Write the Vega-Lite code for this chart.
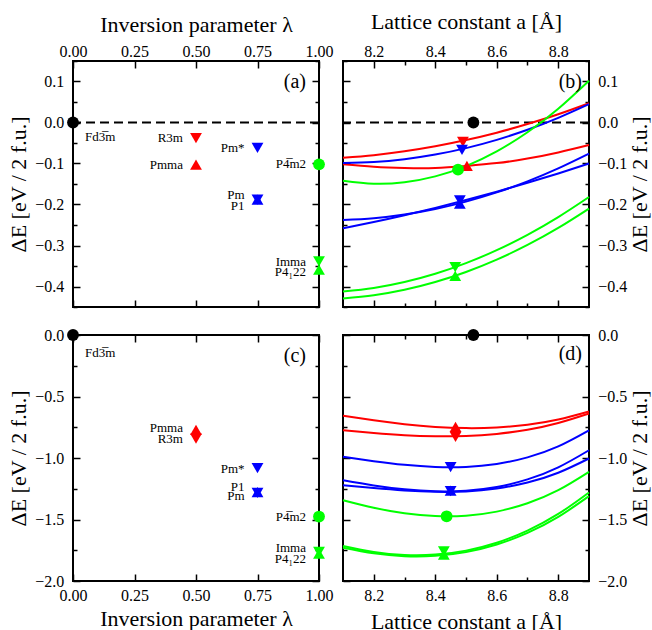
{
  "$schema": "https://vega.github.io/schema/vega-lite/v6.json",
  "background": "white",
  "padding": {"left": 6, "top": 9, "right": 0, "bottom": 0},
  "bounds": "flush",
  "columns": 2,
  "spacing": {"row": 28, "column": 24},
  "resolve": {"scale": {"x": "independent", "y": "independent"}},
  "config": {
    "view": {"stroke": "black", "strokeWidth": 2},
    "font": "Liberation Serif",
    "axis": {
      "domain": false, "grid": false,
      "labelFont": "Liberation Serif", "labelFontSize": 16, "labelColor": "black",
      "titleFont": "Liberation Serif", "titleFontSize": 22, "titleFontWeight": "normal", "titleColor": "black",
      "tickColor": "black", "tickWidth": 1.5,
      "labelFlush": false, "labelOverlap": false, "labelBound": false
    },
    "text": {"font": "Liberation Serif", "fontSize": 13, "color": "black"},
    "legend": {"disable": true}
  },
  "datasets": {
    "zero": [{"E": 0}],
    "pa": [
      {"phase": "Fd3̅m", "lam": 0, "E": 0, "sym": "circle", "grp": "0"},
      {"phase": "R3m", "lam": 0.5, "E": -0.038, "sym": "down", "grp": "0.5"},
      {"phase": "Pmma", "lam": 0.5, "E": -0.103, "sym": "up", "grp": "0.5"},
      {"phase": "Pm*", "lam": 0.75, "E": -0.062, "sym": "down", "grp": "0.75"},
      {"phase": "Pm", "lam": 0.75, "E": -0.188, "sym": "up", "grp": "0.75"},
      {"phase": "P1", "lam": 0.75, "E": -0.188, "sym": "down", "grp": "0.75"},
      {"phase": "P4̅m2", "lam": 1, "E": -0.102, "sym": "circle", "grp": "1"},
      {"phase": "Imma", "lam": 1, "E": -0.339, "sym": "down", "grp": "1"},
      {"phase": "P4₁22", "lam": 1, "E": -0.359, "sym": "up", "grp": "1"}
    ],
    "la": [
      {"lam": 0.5, "E": -0.037, "label": "R3m"},
      {"lam": 0.5, "E": -0.104, "label": "Pmma"},
      {"lam": 0.75, "E": -0.062, "label": "Pm*"},
      {"lam": 0.75, "E": -0.177, "label": "Pm"},
      {"lam": 0.75, "E": -0.204, "label": "P1"},
      {"lam": 1, "E": -0.102, "label": "P4̅m2"},
      {"lam": 1, "E": -0.34, "label": "Imma"},
      {"lam": 1, "E": -0.364, "label": "P4₁22"}
    ],
    "pc": [
      {"phase": "Fd3̅m", "lam": 0, "E": 0, "sym": "circle", "grp": "0"},
      {"phase": "Pmma", "lam": 0.5, "E": -0.772, "sym": "up", "grp": "0.5"},
      {"phase": "R3m", "lam": 0.5, "E": -0.843, "sym": "down", "grp": "0.5"},
      {"phase": "Pm*", "lam": 0.75, "E": -1.083, "sym": "down", "grp": "0.75"},
      {"phase": "P1", "lam": 0.75, "E": -1.277, "sym": "up", "grp": "0.75"},
      {"phase": "Pm", "lam": 0.75, "E": -1.283, "sym": "down", "grp": "0.75"},
      {"phase": "P4̅m2", "lam": 1, "E": -1.476, "sym": "circle", "grp": "1"},
      {"phase": "Imma", "lam": 1, "E": -1.764, "sym": "down", "grp": "1"},
      {"phase": "P4₁22", "lam": 1, "E": -1.778, "sym": "up", "grp": "1"}
    ],
    "lc": [
      {"lam": 0.5, "E": -0.76, "label": "Pmma"},
      {"lam": 0.5, "E": -0.842, "label": "R3m"},
      {"lam": 0.75, "E": -1.086, "label": "Pm*"},
      {"lam": 0.75, "E": -1.235, "label": "P1"},
      {"lam": 0.75, "E": -1.308, "label": "Pm"},
      {"lam": 1, "E": -1.479, "label": "P4̅m2"},
      {"lam": 1, "E": -1.731, "label": "Imma"},
      {"lam": 1, "E": -1.818, "label": "P4₁22"}
    ],
    "pb": [
      {"phase": "Fd3̅m", "a": 8.524, "E": 0, "sym": "circle", "grp": "0"},
      {"phase": "R3m", "a": 8.49, "E": -0.047, "sym": "down", "grp": "0.5"},
      {"phase": "Pmma", "a": 8.503, "E": -0.106, "sym": "up", "grp": "0.5"},
      {"phase": "Pm*", "a": 8.487, "E": -0.067, "sym": "down", "grp": "0.75"},
      {"phase": "Pm", "a": 8.48, "E": -0.19, "sym": "down", "grp": "0.75"},
      {"phase": "P1", "a": 8.48, "E": -0.198, "sym": "up", "grp": "0.75"},
      {"phase": "P4̅m2", "a": 8.474, "E": -0.115, "sym": "circle", "grp": "1"},
      {"phase": "Imma", "a": 8.465, "E": -0.353, "sym": "down", "grp": "1"},
      {"phase": "P4₁22", "a": 8.465, "E": -0.374, "sym": "up", "grp": "1"}
    ],
    "pd": [
      {"phase": "Fd3̅m", "a": 8.524, "E": 0, "sym": "circle", "grp": "0"},
      {"phase": "Pmma", "a": 8.466, "E": -0.747, "sym": "up", "grp": "0.5"},
      {"phase": "R3m", "a": 8.466, "E": -0.828, "sym": "down", "grp": "0.5"},
      {"phase": "Pm*", "a": 8.45, "E": -1.075, "sym": "down", "grp": "0.75"},
      {"phase": "P1", "a": 8.45, "E": -1.265, "sym": "up", "grp": "0.75"},
      {"phase": "Pm", "a": 8.45, "E": -1.27, "sym": "down", "grp": "0.75"},
      {"phase": "P4̅m2", "a": 8.437, "E": -1.474, "sym": "circle", "grp": "1"},
      {"phase": "Imma", "a": 8.428, "E": -1.76, "sym": "down", "grp": "1"},
      {"phase": "P4₁22", "a": 8.428, "E": -1.786, "sym": "up", "grp": "1"}
    ],
    "cb": [
      {"id": "R3m", "grp": "0.5", "a": 8.1, "E": -0.086}, {"id": "R3m", "grp": "0.5", "a": 8.2, "E": -0.0796}, {"id": "R3m", "grp": "0.5", "a": 8.3, "E": -0.0702}, {"id": "R3m", "grp": "0.5", "a": 8.4, "E": -0.058}, {"id": "R3m", "grp": "0.5", "a": 8.5, "E": -0.0428}, {"id": "R3m", "grp": "0.5", "a": 8.6, "E": -0.0248}, {"id": "R3m", "grp": "0.5", "a": 8.7, "E": -0.0038}, {"id": "R3m", "grp": "0.5", "a": 8.8, "E": 0.0201}, {"id": "R3m", "grp": "0.5", "a": 8.9, "E": 0.047},
      {"id": "Pmma", "grp": "0.5", "a": 8.1, "E": -0.102}, {"id": "Pmma", "grp": "0.5", "a": 8.2, "E": -0.108}, {"id": "Pmma", "grp": "0.5", "a": 8.3, "E": -0.111}, {"id": "Pmma", "grp": "0.5", "a": 8.4, "E": -0.111}, {"id": "Pmma", "grp": "0.5", "a": 8.5, "E": -0.106}, {"id": "Pmma", "grp": "0.5", "a": 8.6, "E": -0.099}, {"id": "Pmma", "grp": "0.5", "a": 8.7, "E": -0.088}, {"id": "Pmma", "grp": "0.5", "a": 8.8, "E": -0.073}, {"id": "Pmma", "grp": "0.5", "a": 8.9, "E": -0.055},
      {"id": "Pm*", "grp": "0.75", "a": 8.1, "E": -0.099}, {"id": "Pm*", "grp": "0.75", "a": 8.2, "E": -0.0965}, {"id": "Pm*", "grp": "0.75", "a": 8.3, "E": -0.0896}, {"id": "Pm*", "grp": "0.75", "a": 8.4, "E": -0.0783}, {"id": "Pm*", "grp": "0.75", "a": 8.5, "E": -0.0625}, {"id": "Pm*", "grp": "0.75", "a": 8.6, "E": -0.0423}, {"id": "Pm*", "grp": "0.75", "a": 8.7, "E": -0.0177}, {"id": "Pm*", "grp": "0.75", "a": 8.8, "E": 0.0114}, {"id": "Pm*", "grp": "0.75", "a": 8.9, "E": 0.0449},
      {"id": "Pm", "grp": "0.75", "a": 8.1, "E": -0.238}, {"id": "Pm", "grp": "0.75", "a": 8.2, "E": -0.2335}, {"id": "Pm", "grp": "0.75", "a": 8.3, "E": -0.2245}, {"id": "Pm", "grp": "0.75", "a": 8.4, "E": -0.211}, {"id": "Pm", "grp": "0.75", "a": 8.5, "E": -0.193}, {"id": "Pm", "grp": "0.75", "a": 8.6, "E": -0.1705}, {"id": "Pm", "grp": "0.75", "a": 8.7, "E": -0.1435}, {"id": "Pm", "grp": "0.75", "a": 8.8, "E": -0.112}, {"id": "Pm", "grp": "0.75", "a": 8.9, "E": -0.076},
      {"id": "P1", "grp": "0.75", "a": 8.1, "E": -0.258}, {"id": "P1", "grp": "0.75", "a": 8.2, "E": -0.2427}, {"id": "P1", "grp": "0.75", "a": 8.3, "E": -0.2261}, {"id": "P1", "grp": "0.75", "a": 8.4, "E": -0.2082}, {"id": "P1", "grp": "0.75", "a": 8.5, "E": -0.1891}, {"id": "P1", "grp": "0.75", "a": 8.6, "E": -0.1688}, {"id": "P1", "grp": "0.75", "a": 8.7, "E": -0.1471}, {"id": "P1", "grp": "0.75", "a": 8.8, "E": -0.1242}, {"id": "P1", "grp": "0.75", "a": 8.9, "E": -0.1},
      {"id": "P4m2", "grp": "1", "a": 8.1, "E": -0.142}, {"id": "P4m2", "grp": "1", "a": 8.2, "E": -0.1493}, {"id": "P4m2", "grp": "1", "a": 8.3, "E": -0.1457}, {"id": "P4m2", "grp": "1", "a": 8.4, "E": -0.1314}, {"id": "P4m2", "grp": "1", "a": 8.5, "E": -0.1063}, {"id": "P4m2", "grp": "1", "a": 8.6, "E": -0.0704}, {"id": "P4m2", "grp": "1", "a": 8.7, "E": -0.0237}, {"id": "P4m2", "grp": "1", "a": 8.8, "E": 0.0337}, {"id": "P4m2", "grp": "1", "a": 8.9, "E": 0.102},
      {"id": "Imma", "grp": "1", "a": 8.1, "E": -0.412}, {"id": "Imma", "grp": "1", "a": 8.2, "E": -0.4034}, {"id": "Imma", "grp": "1", "a": 8.3, "E": -0.389}, {"id": "Imma", "grp": "1", "a": 8.4, "E": -0.3688}, {"id": "Imma", "grp": "1", "a": 8.5, "E": -0.343}, {"id": "Imma", "grp": "1", "a": 8.6, "E": -0.3113}, {"id": "Imma", "grp": "1", "a": 8.7, "E": -0.2739}, {"id": "Imma", "grp": "1", "a": 8.8, "E": -0.2307}, {"id": "Imma", "grp": "1", "a": 8.9, "E": -0.1817},
      {"id": "P4122", "grp": "1", "a": 8.1, "E": -0.429}, {"id": "P4122", "grp": "1", "a": 8.2, "E": -0.4213}, {"id": "P4122", "grp": "1", "a": 8.3, "E": -0.408}, {"id": "P4122", "grp": "1", "a": 8.4, "E": -0.3891}, {"id": "P4122", "grp": "1", "a": 8.5, "E": -0.3645}, {"id": "P4122", "grp": "1", "a": 8.6, "E": -0.3344}, {"id": "P4122", "grp": "1", "a": 8.7, "E": -0.2986}, {"id": "P4122", "grp": "1", "a": 8.8, "E": -0.2572}, {"id": "P4122", "grp": "1", "a": 8.9, "E": -0.21}
    ],
    "cd": [
      {"id": "Pmma", "grp": "0.5", "a": 8.1, "E": -0.657}, {"id": "Pmma", "grp": "0.5", "a": 8.2, "E": -0.694}, {"id": "Pmma", "grp": "0.5", "a": 8.3, "E": -0.725}, {"id": "Pmma", "grp": "0.5", "a": 8.4, "E": -0.747}, {"id": "Pmma", "grp": "0.5", "a": 8.5, "E": -0.757}, {"id": "Pmma", "grp": "0.5", "a": 8.6, "E": -0.752}, {"id": "Pmma", "grp": "0.5", "a": 8.7, "E": -0.73}, {"id": "Pmma", "grp": "0.5", "a": 8.8, "E": -0.687}, {"id": "Pmma", "grp": "0.5", "a": 8.9, "E": -0.622},
      {"id": "R3m", "grp": "0.5", "a": 8.1, "E": -0.774}, {"id": "R3m", "grp": "0.5", "a": 8.2, "E": -0.797}, {"id": "R3m", "grp": "0.5", "a": 8.3, "E": -0.815}, {"id": "R3m", "grp": "0.5", "a": 8.4, "E": -0.8235}, {"id": "R3m", "grp": "0.5", "a": 8.5, "E": -0.821}, {"id": "R3m", "grp": "0.5", "a": 8.6, "E": -0.804}, {"id": "R3m", "grp": "0.5", "a": 8.7, "E": -0.77}, {"id": "R3m", "grp": "0.5", "a": 8.8, "E": -0.715}, {"id": "R3m", "grp": "0.5", "a": 8.9, "E": -0.638},
      {"id": "Pm*", "grp": "0.75", "a": 8.1, "E": -0.9905}, {"id": "Pm*", "grp": "0.75", "a": 8.2, "E": -1.0257}, {"id": "Pm*", "grp": "0.75", "a": 8.3, "E": -1.0551}, {"id": "Pm*", "grp": "0.75", "a": 8.4, "E": -1.0725}, {"id": "Pm*", "grp": "0.75", "a": 8.5, "E": -1.0723}, {"id": "Pm*", "grp": "0.75", "a": 8.6, "E": -1.0484}, {"id": "Pm*", "grp": "0.75", "a": 8.7, "E": -0.9948}, {"id": "Pm*", "grp": "0.75", "a": 8.8, "E": -0.9058}, {"id": "Pm*", "grp": "0.75", "a": 8.9, "E": -0.7753},
      {"id": "P1", "grp": "0.75", "a": 8.1, "E": -1.181}, {"id": "P1", "grp": "0.75", "a": 8.2, "E": -1.223}, {"id": "P1", "grp": "0.75", "a": 8.3, "E": -1.255}, {"id": "P1", "grp": "0.75", "a": 8.4, "E": -1.271}, {"id": "P1", "grp": "0.75", "a": 8.5, "E": -1.266}, {"id": "P1", "grp": "0.75", "a": 8.6, "E": -1.2355}, {"id": "P1", "grp": "0.75", "a": 8.7, "E": -1.174}, {"id": "P1", "grp": "0.75", "a": 8.8, "E": -1.076}, {"id": "P1", "grp": "0.75", "a": 8.9, "E": -0.937},
      {"id": "Pm", "grp": "0.75", "a": 8.1, "E": -1.221}, {"id": "Pm", "grp": "0.75", "a": 8.2, "E": -1.2445}, {"id": "Pm", "grp": "0.75", "a": 8.3, "E": -1.264}, {"id": "Pm", "grp": "0.75", "a": 8.4, "E": -1.275}, {"id": "Pm", "grp": "0.75", "a": 8.5, "E": -1.272}, {"id": "Pm", "grp": "0.75", "a": 8.6, "E": -1.248}, {"id": "Pm", "grp": "0.75", "a": 8.7, "E": -1.1995}, {"id": "Pm", "grp": "0.75", "a": 8.8, "E": -1.12}, {"id": "Pm", "grp": "0.75", "a": 8.9, "E": -1.004},
      {"id": "P4m2", "grp": "1", "a": 8.1, "E": -1.343}, {"id": "P4m2", "grp": "1", "a": 8.2, "E": -1.4046}, {"id": "P4m2", "grp": "1", "a": 8.3, "E": -1.449}, {"id": "P4m2", "grp": "1", "a": 8.4, "E": -1.4718}, {"id": "P4m2", "grp": "1", "a": 8.5, "E": -1.469}, {"id": "P4m2", "grp": "1", "a": 8.6, "E": -1.436}, {"id": "P4m2", "grp": "1", "a": 8.7, "E": -1.368}, {"id": "P4m2", "grp": "1", "a": 8.8, "E": -1.262}, {"id": "P4m2", "grp": "1", "a": 8.9, "E": -1.113},
      {"id": "Imma", "grp": "1", "a": 8.1, "E": -1.716}, {"id": "Imma", "grp": "1", "a": 8.2, "E": -1.764}, {"id": "Imma", "grp": "1", "a": 8.3, "E": -1.788}, {"id": "Imma", "grp": "1", "a": 8.4, "E": -1.785}, {"id": "Imma", "grp": "1", "a": 8.5, "E": -1.753}, {"id": "Imma", "grp": "1", "a": 8.6, "E": -1.689}, {"id": "Imma", "grp": "1", "a": 8.7, "E": -1.59}, {"id": "Imma", "grp": "1", "a": 8.8, "E": -1.455}, {"id": "Imma", "grp": "1", "a": 8.9, "E": -1.28},
      {"id": "P4122", "grp": "1", "a": 8.1, "E": -1.73}, {"id": "P4122", "grp": "1", "a": 8.2, "E": -1.775}, {"id": "P4122", "grp": "1", "a": 8.3, "E": -1.798}, {"id": "P4122", "grp": "1", "a": 8.4, "E": -1.795}, {"id": "P4122", "grp": "1", "a": 8.5, "E": -1.764}, {"id": "P4122", "grp": "1", "a": 8.6, "E": -1.703}, {"id": "P4122", "grp": "1", "a": 8.7, "E": -1.609}, {"id": "P4122", "grp": "1", "a": 8.8, "E": -1.479}, {"id": "P4122", "grp": "1", "a": 8.9, "E": -1.31}
    ]
  },
  "concat": [
    {
      "width": 246, "height": 246,
      "resolve": {"axis": {"x": "independent", "y": "independent"}},
      "layer": [
        {
          "data": {"name": "zero"},
          "mark": {"type": "rule", "strokeDash": [9, 5], "strokeWidth": 2, "color": "black"},
          "encoding": {"y": {"field": "E", "type": "quantitative", "scale": {"domain": [-0.45, 0.15], "nice": false, "zero": false}, "axis": null}}
        },
        {
          "data": {"name": "la"},
          "mark": {"type": "text", "align": "right", "baseline": "middle", "dx": -13, "fontSize": 13},
          "encoding": {
            "x": {"field": "lam", "type": "quantitative", "scale": {"domain": [0, 1], "nice": false, "zero": false},
                  "axis": {"orient": "bottom", "values": [0, 0.25, 0.5, 0.75, 1], "labels": false, "title": null, "tickSize": -7}},
            "y": {"field": "E", "type": "quantitative", "scale": {"domain": [-0.45, 0.15], "nice": false, "zero": false},
                  "axis": {"orient": "right", "values": [-0.45, -0.4, -0.35, -0.3, -0.25, -0.2, -0.15, -0.1, -0.05, 0, 0.05, 0.1, 0.15], "labels": false, "title": null,
                           "tickSize": {"condition": {"test": "abs(datum.value*10 - round(datum.value*10)) < 0.001", "value": -7}, "value": -4}}},
            "text": {"field": "label"}
          }
        },
        {
          "data": {"values": [{"lam": 0, "E": -0.036, "label": "Fd3̅m"}]},
          "mark": {"type": "text", "align": "left", "baseline": "middle", "dx": 12, "fontSize": 13},
          "encoding": {
            "x": {"field": "lam", "type": "quantitative", "scale": {"domain": [0, 1], "nice": false, "zero": false}, "axis": null},
            "y": {"field": "E", "type": "quantitative", "scale": {"domain": [-0.45, 0.15], "nice": false, "zero": false}, "axis": null},
            "text": {"field": "label"}
          }
        },
        {
          "data": {"values": [{"lam": 1, "E": 0.1, "label": "(a)"}]},
          "mark": {"type": "text", "align": "right", "baseline": "middle", "dx": -13, "fontSize": 20},
          "encoding": {
            "x": {"field": "lam", "type": "quantitative", "scale": {"domain": [0, 1], "nice": false, "zero": false}, "axis": null},
            "y": {"field": "E", "type": "quantitative", "scale": {"domain": [-0.45, 0.15], "nice": false, "zero": false}, "axis": null},
            "text": {"field": "label"}
          }
        },
        {
          "data": {"name": "pa"},
          "mark": {"type": "point", "filled": true, "size": 140, "opacity": 1},
          "encoding": {
            "x": {"field": "lam", "type": "quantitative", "scale": {"domain": [0, 1], "nice": false, "zero": false},
                  "axis": {"orient": "top", "title": "Inversion parameter λ", "values": [0, 0.25, 0.5, 0.75, 1], "format": ".2f", "tickSize": -7, "labelPadding": 8.5, "titlePadding": 7}},
            "y": {"field": "E", "type": "quantitative", "scale": {"domain": [-0.45, 0.15], "nice": false, "zero": false},
                  "axis": {"orient": "left", "title": "ΔE [eV / 2 f.u.]", "values": [-0.45, -0.4, -0.35, -0.3, -0.25, -0.2, -0.15, -0.1, -0.05, 0, 0.05, 0.1, 0.15],
                           "labelExpr": "abs(datum.value*10 - round(datum.value*10)) < 0.001 ? format(datum.value, '.1f') : ''",
                           "tickSize": {"condition": {"test": "abs(datum.value*10 - round(datum.value*10)) < 0.001", "value": -7}, "value": -4},
                           "labelPadding": 16.3, "titlePadding": 4}},
            "shape": {"field": "sym", "type": "nominal", "scale": {"domain": ["circle", "up", "down"], "range": ["circle", "triangle-up", "triangle-down"]}, "legend": null},
            "color": {"field": "grp", "type": "nominal", "scale": {"domain": ["0", "0.5", "0.75", "1"], "range": ["#000000", "#ff0000", "#0000ff", "#00ff00"]}, "legend": null}
          }
        }
      ]
    },
    {
      "width": 246, "height": 246,
      "resolve": {"axis": {"x": "independent", "y": "independent"}},
      "layer": [
        {
          "data": {"name": "zero"},
          "mark": {"type": "rule", "strokeDash": [9, 5], "strokeWidth": 2, "color": "black"},
          "encoding": {"y": {"field": "E", "type": "quantitative", "scale": {"domain": [-0.45, 0.15], "nice": false, "zero": false}, "axis": null}}
        },
        {
          "data": {"name": "cb"},
          "mark": {"type": "line", "interpolate": "natural", "strokeWidth": 2},
          "encoding": {
            "x": {"field": "a", "type": "quantitative", "scale": {"domain": [8.1, 8.9], "nice": false, "zero": false},
                  "axis": {"orient": "bottom", "values": [8.2, 8.3, 8.4, 8.5, 8.6, 8.7, 8.8], "labels": false, "title": null,
                           "tickSize": {"condition": {"test": "abs(datum.value*5 - round(datum.value*5)) < 0.001", "value": -7}, "value": -4}}},
            "y": {"field": "E", "type": "quantitative", "scale": {"domain": [-0.45, 0.15], "nice": false, "zero": false},
                  "axis": {"orient": "left", "values": [-0.45, -0.4, -0.35, -0.3, -0.25, -0.2, -0.15, -0.1, -0.05, 0, 0.05, 0.1, 0.15], "labels": false, "title": null,
                           "tickSize": {"condition": {"test": "abs(datum.value*10 - round(datum.value*10)) < 0.001", "value": -7}, "value": -4}}},
            "color": {"field": "grp", "type": "nominal", "scale": {"domain": ["0", "0.5", "0.75", "1"], "range": ["#000000", "#ff0000", "#0000ff", "#00ff00"]}, "legend": null},
            "detail": {"field": "id"}
          }
        },
        {
          "data": {"values": [{"a": 8.9, "E": 0.1, "label": "(b)"}]},
          "mark": {"type": "text", "align": "right", "baseline": "middle", "dx": -7, "fontSize": 20},
          "encoding": {
            "x": {"field": "a", "type": "quantitative", "scale": {"domain": [8.1, 8.9], "nice": false, "zero": false}, "axis": null},
            "y": {"field": "E", "type": "quantitative", "scale": {"domain": [-0.45, 0.15], "nice": false, "zero": false}, "axis": null},
            "text": {"field": "label"}
          }
        },
        {
          "data": {"name": "pb"},
          "mark": {"type": "point", "filled": true, "size": 140, "opacity": 1},
          "encoding": {
            "x": {"field": "a", "type": "quantitative", "scale": {"domain": [8.1, 8.9], "nice": false, "zero": false},
                  "axis": {"orient": "top", "title": "Lattice constant a [Å]", "values": [8.2, 8.3, 8.4, 8.5, 8.6, 8.7, 8.8],
                           "labelExpr": "abs(datum.value*5 - round(datum.value*5)) < 0.001 ? format(datum.value, '.1f') : ''",
                           "tickSize": {"condition": {"test": "abs(datum.value*5 - round(datum.value*5)) < 0.001", "value": -7}, "value": -4},
                           "labelPadding": 8.5, "titlePadding": 7}},
            "y": {"field": "E", "type": "quantitative", "scale": {"domain": [-0.45, 0.15], "nice": false, "zero": false},
                  "axis": {"orient": "right", "title": "ΔE [eV / 2 f.u.]", "titleAngle": 270, "titleBaseline": "top", "values": [-0.45, -0.4, -0.35, -0.3, -0.25, -0.2, -0.15, -0.1, -0.05, 0, 0.05, 0.1, 0.15],
                           "labelExpr": "abs(datum.value*10 - round(datum.value*10)) < 0.001 ? format(datum.value, '.1f') : ''",
                           "tickSize": {"condition": {"test": "abs(datum.value*10 - round(datum.value*10)) < 0.001", "value": -7}, "value": -4},
                           "labelPadding": 15.7, "titlePadding": 3}},
            "shape": {"field": "sym", "type": "nominal", "scale": {"domain": ["circle", "up", "down"], "range": ["circle", "triangle-up", "triangle-down"]}, "legend": null},
            "color": {"field": "grp", "type": "nominal", "scale": {"domain": ["0", "0.5", "0.75", "1"], "range": ["#000000", "#ff0000", "#0000ff", "#00ff00"]}, "legend": null}
          }
        }
      ]
    },
    {
      "width": 246, "height": 246,
      "resolve": {"axis": {"x": "independent", "y": "independent"}},
      "layer": [
        {
          "data": {"name": "lc"},
          "mark": {"type": "text", "align": "right", "baseline": "middle", "dx": -13, "fontSize": 13},
          "encoding": {
            "x": {"field": "lam", "type": "quantitative", "scale": {"domain": [0, 1], "nice": false, "zero": false},
                  "axis": {"orient": "top", "values": [0, 0.25, 0.5, 0.75, 1], "labels": false, "title": null, "tickSize": -7}},
            "y": {"field": "E", "type": "quantitative", "scale": {"domain": [-2, 0], "nice": false, "zero": false},
                  "axis": {"orient": "right", "values": [-2, -1.75, -1.5, -1.25, -1, -0.75, -0.5, -0.25, 0], "labels": false, "title": null,
                           "tickSize": {"condition": {"test": "abs(datum.value*2 - round(datum.value*2)) < 0.001", "value": -7}, "value": -4}}},
            "text": {"field": "label"}
          }
        },
        {
          "data": {"values": [{"lam": 0, "E": -0.15, "label": "Fd3̅m"}]},
          "mark": {"type": "text", "align": "left", "baseline": "middle", "dx": 12, "fontSize": 13},
          "encoding": {
            "x": {"field": "lam", "type": "quantitative", "scale": {"domain": [0, 1], "nice": false, "zero": false}, "axis": null},
            "y": {"field": "E", "type": "quantitative", "scale": {"domain": [-2, 0], "nice": false, "zero": false}, "axis": null},
            "text": {"field": "label"}
          }
        },
        {
          "data": {"values": [{"lam": 1, "E": -0.168, "label": "(c)"}]},
          "mark": {"type": "text", "align": "right", "baseline": "middle", "dx": -13, "fontSize": 20},
          "encoding": {
            "x": {"field": "lam", "type": "quantitative", "scale": {"domain": [0, 1], "nice": false, "zero": false}, "axis": null},
            "y": {"field": "E", "type": "quantitative", "scale": {"domain": [-2, 0], "nice": false, "zero": false}, "axis": null},
            "text": {"field": "label"}
          }
        },
        {
          "data": {"name": "pc"},
          "mark": {"type": "point", "filled": true, "size": 140, "opacity": 1},
          "encoding": {
            "x": {"field": "lam", "type": "quantitative", "scale": {"domain": [0, 1], "nice": false, "zero": false},
                  "axis": {"orient": "bottom", "title": "Inversion parameter λ", "values": [0, 0.25, 0.5, 0.75, 1], "format": ".2f", "tickSize": -7, "labelPadding": 13.3, "titlePadding": 5}},
            "y": {"field": "E", "type": "quantitative", "scale": {"domain": [-2, 0], "nice": false, "zero": false},
                  "axis": {"orient": "left", "title": "ΔE [eV / 2 f.u.]", "values": [-2, -1.75, -1.5, -1.25, -1, -0.75, -0.5, -0.25, 0],
                           "labelExpr": "abs(datum.value*2 - round(datum.value*2)) < 0.001 ? format(datum.value, '.1f') : ''",
                           "tickSize": {"condition": {"test": "abs(datum.value*2 - round(datum.value*2)) < 0.001", "value": -7}, "value": -4},
                           "labelPadding": 16.3, "titlePadding": 4}},
            "shape": {"field": "sym", "type": "nominal", "scale": {"domain": ["circle", "up", "down"], "range": ["circle", "triangle-up", "triangle-down"]}, "legend": null},
            "color": {"field": "grp", "type": "nominal", "scale": {"domain": ["0", "0.5", "0.75", "1"], "range": ["#000000", "#ff0000", "#0000ff", "#00ff00"]}, "legend": null}
          }
        }
      ]
    },
    {
      "width": 246, "height": 246,
      "resolve": {"axis": {"x": "independent", "y": "independent"}},
      "layer": [
        {
          "data": {"name": "cd"},
          "mark": {"type": "line", "interpolate": "natural", "strokeWidth": 2},
          "encoding": {
            "x": {"field": "a", "type": "quantitative", "scale": {"domain": [8.1, 8.9], "nice": false, "zero": false},
                  "axis": {"orient": "top", "values": [8.2, 8.3, 8.4, 8.5, 8.6, 8.7, 8.8], "labels": false, "title": null,
                           "tickSize": {"condition": {"test": "abs(datum.value*5 - round(datum.value*5)) < 0.001", "value": -7}, "value": -4}}},
            "y": {"field": "E", "type": "quantitative", "scale": {"domain": [-2, 0], "nice": false, "zero": false},
                  "axis": {"orient": "left", "values": [-2, -1.75, -1.5, -1.25, -1, -0.75, -0.5, -0.25, 0], "labels": false, "title": null,
                           "tickSize": {"condition": {"test": "abs(datum.value*2 - round(datum.value*2)) < 0.001", "value": -7}, "value": -4}}},
            "color": {"field": "grp", "type": "nominal", "scale": {"domain": ["0", "0.5", "0.75", "1"], "range": ["#000000", "#ff0000", "#0000ff", "#00ff00"]}, "legend": null},
            "detail": {"field": "id"}
          }
        },
        {
          "data": {"values": [{"a": 8.9, "E": -0.156, "label": "(d)"}]},
          "mark": {"type": "text", "align": "right", "baseline": "middle", "dx": -7, "fontSize": 20},
          "encoding": {
            "x": {"field": "a", "type": "quantitative", "scale": {"domain": [8.1, 8.9], "nice": false, "zero": false}, "axis": null},
            "y": {"field": "E", "type": "quantitative", "scale": {"domain": [-2, 0], "nice": false, "zero": false}, "axis": null},
            "text": {"field": "label"}
          }
        },
        {
          "data": {"name": "pd"},
          "mark": {"type": "point", "filled": true, "size": 140, "opacity": 1},
          "encoding": {
            "x": {"field": "a", "type": "quantitative", "scale": {"domain": [8.1, 8.9], "nice": false, "zero": false},
                  "axis": {"orient": "bottom", "title": "Lattice constant a [Å]", "values": [8.2, 8.3, 8.4, 8.5, 8.6, 8.7, 8.8],
                           "labelExpr": "abs(datum.value*5 - round(datum.value*5)) < 0.001 ? format(datum.value, '.1f') : ''",
                           "tickSize": {"condition": {"test": "abs(datum.value*5 - round(datum.value*5)) < 0.001", "value": -7}, "value": -4},
                           "labelPadding": 13.3, "titlePadding": 5}},
            "y": {"field": "E", "type": "quantitative", "scale": {"domain": [-2, 0], "nice": false, "zero": false},
                  "axis": {"orient": "right", "title": "ΔE [eV / 2 f.u.]", "titleAngle": 270, "titleBaseline": "top", "values": [-2, -1.75, -1.5, -1.25, -1, -0.75, -0.5, -0.25, 0],
                           "labelExpr": "abs(datum.value*2 - round(datum.value*2)) < 0.001 ? format(datum.value, '.1f') : ''",
                           "tickSize": {"condition": {"test": "abs(datum.value*2 - round(datum.value*2)) < 0.001", "value": -7}, "value": -4},
                           "labelPadding": 15.7, "titlePadding": 3}},
            "shape": {"field": "sym", "type": "nominal", "scale": {"domain": ["circle", "up", "down"], "range": ["circle", "triangle-up", "triangle-down"]}, "legend": null},
            "color": {"field": "grp", "type": "nominal", "scale": {"domain": ["0", "0.5", "0.75", "1"], "range": ["#000000", "#ff0000", "#0000ff", "#00ff00"]}, "legend": null}
          }
        }
      ]
    }
  ]
}
